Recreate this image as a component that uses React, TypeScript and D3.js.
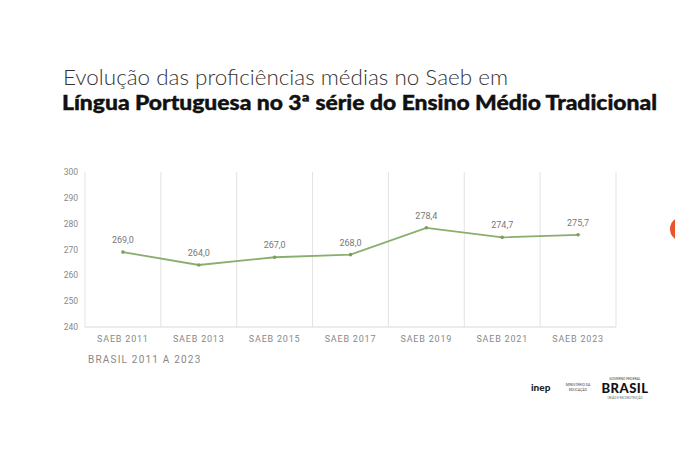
import React from "react";
import * as d3 from "d3";

const categories = ["SAEB 2011", "SAEB 2013", "SAEB 2015", "SAEB 2017", "SAEB 2019", "SAEB 2021", "SAEB 2023"];
const values = [269.0, 264.0, 267.0, 268.0, 278.4, 274.7, 275.7];
const yTicks = [240, 250, 260, 270, 280, 290, 300];

const W = 675, H = 450;
const left = 85, right = 616, top = 172, bottom = 327;

export default function App() {
  const x = d3.scaleBand<string>().domain(categories).range([left, right]).padding(0);
  const y = d3.scaleLinear().domain([240, 300]).range([bottom, top]);
  const line = d3.line<number>()
    .x((_, i) => (x(categories[i]) as number) + x.bandwidth() / 2)
    .y(d => y(d));
  const fmt = (v: number) => v.toFixed(1).replace(".", ",");
  return (
    <svg width={W} height={H} style={{ position: "absolute", left: 0, top: 0, background: "#fff" }}>
      <rect width={W} height={H} fill="#fff" />
      <text x={63} y={85} fontFamily="Lato, 'Open Sans', sans-serif" fontWeight={300} fontSize={21} fill="#333" textLength={445} lengthAdjust="spacingAndGlyphs">
        Evolução das proficiências médias no Saeb em
      </text>
      <text x={62} y={110} fontFamily="Lato, 'Open Sans', sans-serif" fontWeight={900} fontSize={20} fill="#111" textLength={595} lengthAdjust="spacingAndGlyphs" stroke="#111" strokeWidth={0.4}>
        Língua Portuguesa no 3ª série do Ensino Médio Tradicional
      </text>
      {categories.map((c, i) => i > 0 ? (
        <line key={c} x1={x(c)} x2={x(c)} y1={top} y2={bottom} stroke="#e3e3e3" strokeWidth={1} />
      ) : null)}
      <line x1={right} x2={right} y1={top} y2={bottom} stroke="#e3e3e3" />
      <line x1={left} x2={left} y1={top} y2={bottom} stroke="#e3e3e3" />
      <line x1={left} x2={right} y1={bottom} y2={bottom} stroke="#d8d8d8" />
      {yTicks.map(t => (
        <text key={t} x={78} y={y(t) + 3} textAnchor="end" fontFamily="Roboto, sans-serif" fontSize={8.5} fill="#888">{t}</text>
      ))}
      {categories.map(c => (
        <text key={c} x={(x(c) as number) + x.bandwidth() / 2} y={342} textAnchor="middle" fontFamily="Roboto, sans-serif" fontSize={9} letterSpacing={0.8} fill="#888">{c}</text>
      ))}
      <path d={line(values) || ""} fill="none" stroke="#8aae6c" strokeWidth={1.8} />
      {values.map((v, i) => (
        <g key={i}>
          <circle cx={(x(categories[i]) as number) + x.bandwidth() / 2} cy={y(v)} r={1.8} fill="#7a9e5c" />
          <text x={(x(categories[i]) as number) + x.bandwidth() / 2} y={y(v) - 9} textAnchor="middle" fontFamily="Roboto, sans-serif" fontSize={9} fill="#777">{fmt(v)}</text>
        </g>
      ))}
      <text x={88} y={363} fontFamily="Roboto, sans-serif" fontSize={10} letterSpacing={1.2} fill="#888">BRASIL 2011 A 2023</text>
      <circle cx={682} cy={229} r={12} fill="#e8552b" />
      <text x={531} y={391} fontFamily="Lato, sans-serif" fontWeight={900} fontSize={10} fill="#222">inep</text>
      <text x={578} y={386} textAnchor="middle" fontFamily="Roboto, sans-serif" fontSize={3.5} fill="#444">MINISTÉRIO DA</text>
      <text x={578} y={391} textAnchor="middle" fontFamily="Roboto, sans-serif" fontSize={3.5} fill="#444">EDUCAÇÃO</text>
      <text x={625} y={380} textAnchor="middle" fontFamily="Roboto, sans-serif" fontSize={3.5} fill="#444">GOVERNO FEDERAL</text>
      <text x={625} y={393} textAnchor="middle" fontFamily="Lato, sans-serif" fontWeight={900} fontSize={13} fill="#111" letterSpacing={0.5}>BRASIL</text>
      <text x={625} y={399} textAnchor="middle" fontFamily="Roboto, sans-serif" fontSize={3} fill="#666">UNIÃO E RECONSTRUÇÃO</text>
    </svg>
  );
}
